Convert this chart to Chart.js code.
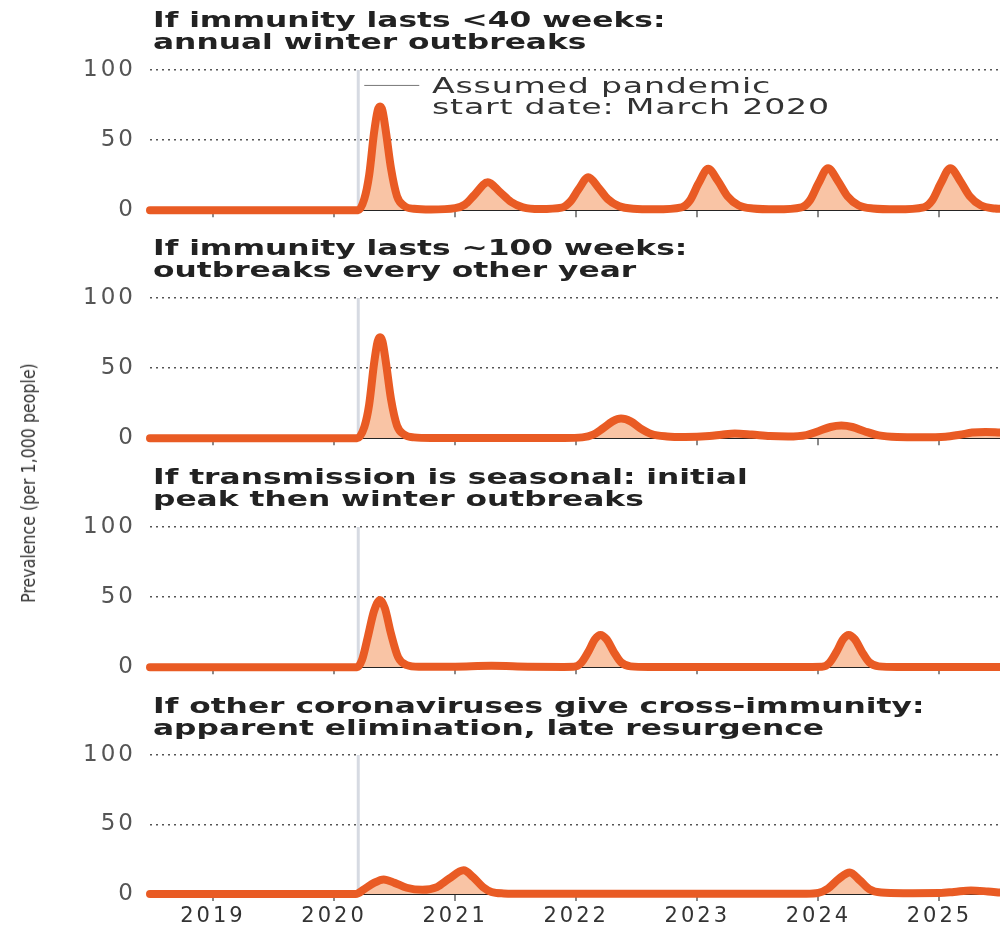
<!DOCTYPE html>
<html>
<head>
<meta charset="utf-8">
<script src="https://cdn.jsdelivr.net/npm/chart.js@4/dist/chart.umd.min.js"></script>
<style>
  body { margin: 0; background: #fff; }
  #wrap { position: relative; width: 1000px; height: 928px; overflow: hidden; background: #fff; }
  canvas { position: absolute; left: 0; }
  .title {
    position: absolute; left: 153px; white-space: nowrap;
    font: bold 21px "DejaVu Sans", sans-serif; line-height: 22px; color: #222;
    letter-spacing: 0px; transform: scaleX(1.49); transform-origin: left top;
  }
  .note {
    position: absolute; left: 432px; top: 76px; white-space: nowrap;
    font: 21px "DejaVu Sans", sans-serif; line-height: 21px; color: #333;
    letter-spacing: 0.5px; transform: scaleX(1.58); transform-origin: left top;
  }
  #ytitle {
    position: absolute; left: 28px; top: 483px; white-space: nowrap;
    font: 20px "Liberation Sans Narrow", "DejaVu Sans Condensed", sans-serif; color: #333;
    transform: translate(-50%, -50%) rotate(-90deg) scaleX(0.88);
  }
</style>
</head>
<body>
<div id="wrap">
  <canvas id="c1" width="1000" height="238" style="top:0px"></canvas>
  <canvas id="c2" width="1000" height="238" style="top:228px"></canvas>
  <canvas id="c3" width="1000" height="238" style="top:457px"></canvas>
  <canvas id="c4" width="1000" height="244" style="top:685px"></canvas>
  <div class="title" style="top:9px">If immunity lasts &lt;40 weeks:<br>annual winter outbreaks</div>
  <div class="title" style="top:237px">If immunity lasts ~100 weeks:<br>outbreaks every other year</div>
  <div class="title" style="top:466px">If transmission is seasonal: initial<br>peak then winter outbreaks</div>
  <div class="title" style="top:695px">If other coronaviruses give cross-immunity:<br>apparent elimination, late resurgence</div>
  <div class="note">Assumed pandemic<br>start date: March 2020</div>
  <div id="ytitle">Prevalence (per 1,000 people)</div>
</div>
<script>
// year ticks and range
const yearTicks = [2019, 2020, 2021, 2022, 2023, 2024, 2025];
const yearMin = 2018.48, yearMax = 2025.5;
const startDate = 2020.2; // March 2020
const prevTicks = [0, 50, 100];

// If immunity lasts <40 weeks
const p1Years = [2018.48, 2020.2, 2020.25, 2020.29, 2020.33, 2020.36, 2020.38, 2020.4, 2020.43, 2020.47, 2020.52, 2020.58, 2020.66, 2020.8,
  2021.0, 2021.08, 2021.16, 2021.27, 2021.37, 2021.46, 2021.56, 2021.7,
  2021.88, 2021.95, 2022.02, 2022.1, 2022.18, 2022.26, 2022.35, 2022.47, 2022.65,
  2022.87, 2022.94, 2023.01, 2023.09, 2023.17, 2023.25, 2023.34, 2023.46, 2023.65,
  2023.86, 2023.93, 2024.0, 2024.08, 2024.16, 2024.24, 2024.33, 2024.45, 2024.65,
  2024.87, 2024.94, 2025.01, 2025.09, 2025.17, 2025.25, 2025.34, 2025.46, 2025.5];
const p1Values = [0, 0, 8, 25, 55, 71, 74, 71, 55, 30, 10, 3, 1, 0.5,
  1.5, 4, 11, 20, 13, 6, 2, 0.8,
  1.8, 6, 15, 23.5, 16.5, 8, 3, 1, 0.6,
  2, 7, 19, 29.5, 21, 10, 3.5, 1.2, 0.6,
  2, 7, 19, 30, 21, 10, 3.5, 1.2, 0.6,
  2, 7, 19, 30, 21, 10, 3.5, 1.2, 1];

// If immunity lasts ~100 weeks
const p2Years = [2018.48, 2020.19, 2020.25, 2020.29, 2020.33, 2020.36, 2020.38, 2020.4, 2020.43, 2020.47, 2020.52, 2020.58, 2020.66, 2020.8,
  2021.9, 2022.05, 2022.14, 2022.22, 2022.3, 2022.37, 2022.45, 2022.53, 2022.62, 2022.75, 2022.9,
  2023.1, 2023.2, 2023.31, 2023.45, 2023.6, 2023.75,
  2023.9, 2024.0, 2024.1, 2024.19, 2024.28, 2024.38, 2024.5, 2024.65, 2024.85,
  2025.05, 2025.17, 2025.27, 2025.38, 2025.5];
const p2Values = [0, 0, 8, 24, 53, 69, 72, 69, 53, 28, 9, 2.5, 0.6, 0.2,
  0.2, 0.6, 2.5, 7, 12, 14, 12, 7, 3, 1.2, 0.8,
  1.5, 2.5, 3.4, 2.6, 1.5, 1.2,
  2.2, 5, 8, 9, 8, 5, 2, 0.8, 0.6,
  1, 2.5, 4, 4.5, 4];

// If transmission is seasonal
const p3Years = [2018.48, 2020.19, 2020.23, 2020.28, 2020.33, 2020.38, 2020.42, 2020.47, 2020.53, 2020.6, 2020.7,
  2021.0, 2021.3, 2021.6, 2021.9,
  2021.98, 2022.04, 2022.1, 2022.155, 2022.2, 2022.25, 2022.31, 2022.37, 2022.45, 2022.6,
  2023.95, 2024.03, 2024.09, 2024.15, 2024.205, 2024.25, 2024.3, 2024.36, 2024.42, 2024.5, 2024.65,
  2025.5];
const p3Values = [0, 0, 5, 22, 40, 48, 42, 24, 7, 1.5, 0.3,
  0.4, 1, 0.4, 0.2,
  0.3, 3, 11, 20, 23, 20, 11, 3.5, 0.6, 0.2,
  0.2, 0.3, 3, 11, 20, 23, 20, 11, 3.5, 0.6, 0.2,
  0.2];

// If other coronaviruses give cross-immunity
const p4Years = [2018.48, 2020.18, 2020.25, 2020.33, 2020.41, 2020.5, 2020.6, 2020.73, 2020.85, 2020.95, 2021.07, 2021.15, 2021.23, 2021.3, 2021.4, 2021.6,
  2023.9, 2024.0, 2024.08, 2024.17, 2024.26, 2024.34, 2024.42, 2024.52, 2024.7,
  2025.0, 2025.12, 2025.26, 2025.4, 2025.5];
const p4Values = [0, 0, 3.5, 8, 10.5, 8, 4.5, 3, 5, 11, 17, 12, 5, 1.5, 0.4, 0.1,
  0.2, 0.8, 4, 11, 15.5, 10, 3.5, 1, 0.6,
  0.7, 1.5, 2.6, 1.8, 1];

const startLine = {
  id: "startLine",
  beforeDraw(chart) {
    chart.ctx.letterSpacing = "3px";
  },
  beforeDatasetsDraw(chart, args, opts) {
    const ctx = chart.ctx, area = chart.chartArea;
    const x = chart.scales.x.getPixelForValue(startDate);
    ctx.save();
    ctx.strokeStyle = "#d6dae2";
    ctx.lineWidth = 3;
    ctx.beginPath();
    ctx.moveTo(x, area.top);
    ctx.lineTo(x, area.bottom);
    ctx.stroke();
    if (opts.note) {
      const y = chart.scales.y.getPixelForValue(89);
      ctx.strokeStyle = "#777";
      ctx.lineWidth = 1;
      ctx.beginPath();
      ctx.moveTo(x + 6, y);
      ctx.lineTo(x + 61, y);
      ctx.stroke();
    }
    ctx.restore();
  }
};

function panel(id, years, values, bottom, note) {
  const ctx = document.getElementById(id).getContext("2d");
  return new Chart(ctx, {
    type: "line",
    data: {
      datasets: [{
        data: years.map((x, i) => ({ x: x, y: values[i] })),
        borderColor: "#e95b24",
        backgroundColor: "#f9c4a5",
        borderWidth: 8,
        fill: "origin",
        pointRadius: 0,
        cubicInterpolationMode: "monotone",
        borderCapStyle: "round",
        borderJoinStyle: "round",
        clip: { left: 6, top: 10, right: 0, bottom: 10 }
      }]
    },
    options: {
      responsive: false,
      animation: false,
      devicePixelRatio: 1,
      layout: { padding: { top: 70, left: 0, right: 0, bottom: 0 } },
      plugins: {
        legend: { display: false },
        tooltip: { enabled: false },
        startLine: { note: note }
      },
      scales: {
        x: {
          type: "linear",
          min: yearMin,
          max: yearMax,
          afterBuildTicks: (s) => { s.ticks = yearTicks.map((v) => ({ value: v })); },
          afterFit: (s) => { s.height = bottom ? 35 : 19; },
          ticks: {
            autoSkip: false,
            maxRotation: 0,
            padding: 3,
            color: "#333",
            font: { family: "DejaVu Sans", size: 21 },
            callback: (v) => (bottom ? String(v) : "")
          },
          grid: { drawOnChartArea: false, drawTicks: true, tickLength: 7, color: "#8a8a8a", lineWidth: 2 },
          border: { display: true, color: "#222", width: 2 }
        },
        y: {
          min: 0,
          max: 100,
          afterBuildTicks: (s) => { s.ticks = prevTicks.map((v) => ({ value: v })); },
          afterFit: (s) => { s.width = 150; },
          ticks: {
            padding: 14,
            color: "#555",
            font: { family: "DejaVu Sans", size: 23 }
          },
          grid: {
            drawTicks: false,
            lineWidth: 1.5,
            color: (c) => (c.tick && c.tick.value === 0 ? "rgba(0,0,0,0)" : "#555")
          },
          border: { display: false, dash: [2, 4] }
        }
      }
    },
    plugins: [startLine]
  });
}

panel("c1", p1Years, p1Values, false, true);
panel("c2", p2Years, p2Values, false, false);
panel("c3", p3Years, p3Values, false, false);
panel("c4", p4Years, p4Values, true, false);
</script>
</body>
</html>
